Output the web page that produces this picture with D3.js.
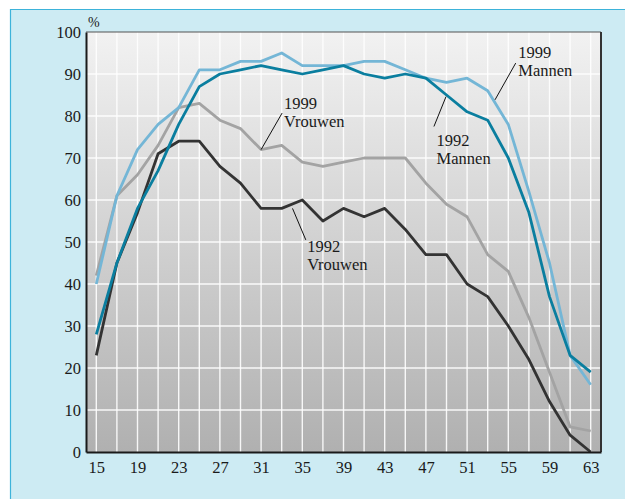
<!DOCTYPE html>
<html>
<head>
<meta charset="utf-8">
<script src="https://cdn.jsdelivr.net/npm/d3@7"></script>
<style>
  html, body { margin: 0; padding: 0; background: #ffffff; }
  svg { display: block; }
  text { font-family: "Liberation Serif", "DejaVu Serif", serif; fill: #1a1a1a; }
</style>
</head>
<body>
<svg id="chart" width="625" height="499"></svg>
<script>
// ---- data ----
const ages = [15,17,19,21,23,25,27,29,31,33,35,37,39,41,43,45,47,49,51,53,55,57,59,61,63];
const mannen1999  = [40,61,72,78,82,91,91,93,93,95,92,92,92,93,93,91,89,88,89,86,78,62,45,23,16];
const mannen1992  = [28,45,58,67,78,87,90,91,92,91,90,91,92,90,89,90,89,85,81,79,70,57,37,23,19];
const vrouwen1999 = [42,61,66,73,82,83,79,77,72,73,69,68,69,70,70,70,64,59,56,47,43,32,19,6,5];
const vrouwen1992 = [23,45,57,71,74,74,68,64,58,58,60,55,58,56,58,53,47,47,40,37,30,22,12,4,0];
const xTickLabels = [15,19,23,27,31,35,39,43,47,51,55,59,63];
const yTickLabels = [0,10,20,30,40,50,60,70,80,90,100];
const gridAges = [15,17,19,21,23,25,27,29,31,33,35,37,39,41,43,45,47,49,51,53,55,57,59,61,63];

// annotations: text anchor (age, value) and leader line from/to (age, value)
const annotations = [
  { lines: ["1999", "Mannen"],  text: [55.97, 93.8], from: [55.72, 92.6], to: [53.71, 83.85] },
  { lines: ["1992", "Mannen"],  text: [48.04, 72.96], from: [48.95, 84.6], to: [47.78, 77.5] },
  { lines: ["1999", "Vrouwen"], text: [33.23, 81.7], from: [33.04, 80.7], to: [31.0, 72.0] },
  { lines: ["1992", "Vrouwen"], text: [35.47, 47.54], from: [34.05, 58.0], to: [35.34, 50.5] }
];

const series = [
  { values: vrouwen1999, color: "#a3a3a3" },
  { values: vrouwen1992, color: "#333333" },
  { values: mannen1999,  color: "#74b6d6" },
  { values: mannen1992,  color: "#0a7e9f" }
];

// ---- layout ----
const svg = d3.select("#chart");
const W = 625, H = 499;
const plot = { left: 86, top: 32, right: 601, bottom: 452 };

const x = d3.scaleLinear().domain([14, 64]).range([plot.left, plot.right]);
const y = d3.scaleLinear().domain([0, 100]).range([plot.bottom, plot.top]);

// panel
svg.append("rect").attr("x", 10).attr("y", 9).attr("width", W - 10).attr("height", H - 9)
  .attr("fill", "#cdebf3");
svg.append("line").attr("x1", 10.5).attr("x2", 10.5).attr("y1", 9).attr("y2", H)
  .attr("stroke", "#3db3da").attr("stroke-width", 1.2);
svg.append("line").attr("x1", 10).attr("x2", W).attr("y1", 9.5).attr("y2", 9.5)
  .attr("stroke", "#3db3da").attr("stroke-width", 1.2);

// plot background gradient
const defs = svg.append("defs");
const grad = defs.append("linearGradient").attr("id", "bg").attr("x1", 0).attr("x2", 0).attr("y1", 0).attr("y2", 1);
grad.append("stop").attr("offset", "0%").attr("stop-color", "#f2f2f2");
grad.append("stop").attr("offset", "100%").attr("stop-color", "#b0b0b0");
svg.append("rect").attr("x", plot.left).attr("y", plot.top)
  .attr("width", plot.right - plot.left).attr("height", plot.bottom - plot.top)
  .attr("fill", "url(#bg)");

// grid
const g = svg.append("g");
g.selectAll("line.vg").data(gridAges).join("line").attr("class", "vg")
  .attr("x1", d => x(d)).attr("x2", d => x(d)).attr("y1", plot.top).attr("y2", plot.bottom)
  .attr("stroke", "#ffffff").attr("stroke-width", 1.4).attr("opacity", 0.9);
g.selectAll("line.hg").data(yTickLabels.filter(v => v > 0 && v < 100)).join("line").attr("class", "hg")
  .attr("x1", plot.left).attr("x2", plot.right).attr("y1", d => y(d)).attr("y2", d => y(d))
  .attr("stroke", "#ffffff").attr("stroke-width", 1.4).attr("opacity", 0.9);

// frame
svg.append("line").attr("x1", plot.left).attr("x2", plot.right).attr("y1", plot.top).attr("y2", plot.top)
  .attr("stroke", "#555").attr("stroke-width", 1.2);
svg.append("line").attr("x1", plot.right).attr("x2", plot.right).attr("y1", plot.top).attr("y2", plot.bottom)
  .attr("stroke", "#333").attr("stroke-width", 2);

// lines
const line = d3.line().x((d, i) => x(ages[i])).y(d => y(d));
svg.append("g").selectAll("path").data(series).join("path")
  .attr("d", d => line(d.values))
  .attr("fill", "none").attr("stroke", d => d.color)
  .attr("stroke-width", 2.8).attr("stroke-linejoin", "round");

// axes
const xAxis = d3.axisBottom(x).tickValues(xTickLabels).tickSize(0).tickPadding(9).tickFormat(d3.format("d"));
const yAxis = d3.axisLeft(y).tickValues(yTickLabels).tickSize(0).tickPadding(5).tickFormat(d3.format("d"));
const gx = svg.append("g").attr("transform", `translate(0,${plot.bottom})`).call(xAxis);
const gy = svg.append("g").attr("transform", `translate(${plot.left},0)`).call(yAxis);
[gx, gy].forEach(a => {
  a.select(".domain").attr("stroke", "#1a1a1a").attr("stroke-width", 2);
  a.selectAll("text").attr("font-size", 16.5).attr("font-family", "Liberation Serif, serif").attr("fill", "#1a1a1a");
});
gx.selectAll("text").attr("dy", "0.71em");

// % label
svg.append("text").attr("x", plot.left + 2).attr("y", 27).attr("font-size", 14).text("%");

// annotations
const ag = svg.append("g");
annotations.forEach(a => {
  ag.append("line")
    .attr("x1", x(a.from[0])).attr("y1", y(a.from[1]))
    .attr("x2", x(a.to[0])).attr("y2", y(a.to[1]))
    .attr("stroke", "#111").attr("stroke-width", 1);
  const t = ag.append("text").attr("x", x(a.text[0])).attr("y", y(a.text[1])).attr("font-size", 16.5);
  a.lines.forEach((s, i) => {
    t.append("tspan").attr("x", x(a.text[0])).attr("dy", i === 0 ? 0 : 18).text(s);
  });
});
</script>
</body>
</html>
